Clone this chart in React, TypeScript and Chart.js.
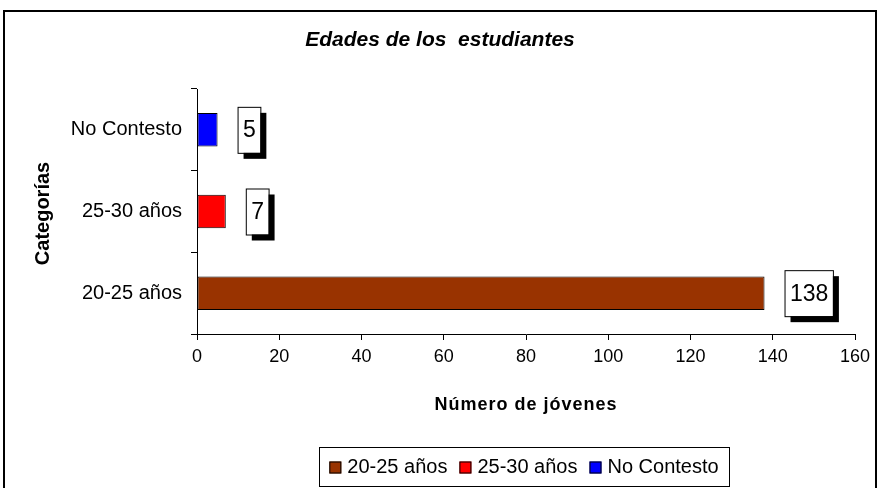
import React, { useEffect, useRef } from "react";
import { Chart, registerables } from "chart.js";

Chart.register(...registerables);

const categories = ["20-25 años", "25-30 años", "No Contesto"];
const seriesNames = ["20-25 años", "25-30 años", "No Contesto"];
const seriesValues = [138, 7, 5];
const seriesColors = ["#993300", "#FF0000", "#0000FF"];
const xMin = 0;
const xMax = 160;
const xStep = 20;
const chartTitle = "Edades de los  estudiantes";
const xTitle = "Número de jóvenes";
const yTitle = "Categorías";

const FONT = "'Liberation Sans', Arial, Helvetica, sans-serif";

const decorPlugin = {
  id: "decor",
  afterDraw(chart: any) {
    const ctx = chart.ctx as CanvasRenderingContext2D;
    const area = chart.chartArea;
    ctx.save();

    // outer frame
    ctx.strokeStyle = "#000";
    ctx.lineWidth = 2;
    ctx.strokeRect(4, 11, 872, 490);

    // title
    ctx.fillStyle = "#000";
    ctx.textAlign = "center";
    ctx.textBaseline = "middle";
    ctx.font = `italic bold 21px ${FONT}`;
    ctx.fillText(chartTitle, 440, 40);

    // x axis title
    ctx.font = `bold 18px ${FONT}`;
    (ctx as any).letterSpacing = "1px";
    ctx.fillText(xTitle, (area.left + area.right) / 2, 405);
    (ctx as any).letterSpacing = "0px";

    // y axis title
    ctx.save();
    ctx.translate(43, (area.top + area.bottom) / 2 + 2);
    ctx.rotate(-Math.PI / 2);
    ctx.font = `bold 20px ${FONT}`;
    ctx.fillText(yTitle, 0, 0);
    ctx.restore();

    // data labels
    ctx.font = `23px ${FONT}`;
    chart.data.datasets.forEach((ds: any, i: number) => {
      const meta = chart.getDatasetMeta(i);
      meta.data.forEach((el: any, j: number) => {
        const v = ds.data[j];
        if (v === null || v === undefined) return;
        const text = String(v);
        const tw = ctx.measureText(text).width;
        const w = tw + 10;
        const h = 46;
        const bx = el.x + 20;
        const by = el.y - h / 2;
        ctx.fillStyle = "#000";
        ctx.fillRect(bx + 6, by + 6, w, h);
        ctx.fillStyle = "#fff";
        ctx.fillRect(bx, by, w, h);
        ctx.strokeStyle = "#000";
        ctx.lineWidth = 1;
        ctx.strokeRect(bx + 0.5, by + 0.5, w, h);
        ctx.fillStyle = "#000";
        ctx.textAlign = "center";
        ctx.textBaseline = "middle";
        ctx.fillText(text, bx + w / 2 + 0.5, by + h / 2 + 1);
      });
    });

    // legend
    const lx = 319, ly = 447, lw = 410, lh = 39;
    ctx.fillStyle = "#fff";
    ctx.fillRect(lx, ly, lw, lh);
    ctx.strokeStyle = "#000";
    ctx.lineWidth = 1;
    ctx.strokeRect(lx + 0.5, ly + 0.5, lw, lh);
    ctx.font = `20px ${FONT}`;
    const sq = 12, gapSq = 6, gapItem = 12;
    const widths = seriesNames.map((n) => sq + gapSq + ctx.measureText(n).width);
    const total = widths.reduce((a, b) => a + b, 0) + gapItem * (seriesNames.length - 1);
    let x = lx + (lw - total) / 2;
    const cy = ly + lh / 2 + 1;
    seriesNames.forEach((n, i) => {
      ctx.fillStyle = seriesColors[i];
      ctx.fillRect(x, cy - sq / 2, sq, sq);
      ctx.strokeStyle = "#000";
      ctx.strokeRect(x + 0.5, cy - sq / 2 + 0.5, sq - 1, sq - 1);
      ctx.fillStyle = "#000";
      ctx.textAlign = "left";
      ctx.textBaseline = "middle";
      ctx.fillText(n, x + sq + gapSq, cy);
      x += widths[i] + gapItem;
    });

    ctx.restore();
  },
};

export default function App() {
  const ref = useRef<HTMLCanvasElement>(null);

  useEffect(() => {
    document.body.style.margin = "0";
    const canvas = ref.current;
    if (!canvas) return;
    const datasets = seriesNames.map((name, i) => ({
      label: name,
      data: categories.map((_, j) => (j === i ? seriesValues[i] : null)),
      backgroundColor: seriesColors[i],
      borderColor: "#000",
      borderWidth: 1,
      borderSkipped: false,
      barPercentage: 0.41,
      categoryPercentage: 1,
      skipNull: true,
    }));
    const chart = new Chart(canvas, {
      type: "bar",
      data: { labels: categories, datasets },
      options: {
        indexAxis: "y",
        responsive: false,
        animation: false,
        layout: { padding: { top: 89, right: 25, left: 0, bottom: 0 } },
        plugins: {
          legend: { display: false },
          title: { display: false },
          tooltip: { enabled: false },
        },
        scales: {
          x: {
            type: "linear",
            min: xMin,
            max: xMax,
            ticks: {
              stepSize: xStep,
              color: "#000",
              padding: 6,
              font: { family: FONT, size: 18 },
            },
            grid: {
              drawOnChartArea: false,
              drawTicks: true,
              tickLength: 6,
              color: "#000",
            },
            border: { display: true, color: "#000", width: 1 },
            afterFit: (s: any) => {
              s.height = 154;
            },
          },
          y: {
            reverse: true,
            ticks: {
              color: "#000",
              padding: 9,
              font: { family: FONT, size: 20 },
            },
            grid: {
              drawOnChartArea: false,
              drawTicks: true,
              tickLength: 6,
              offset: true,
              color: "#000",
            },
            border: { display: true, color: "#000", width: 1 },
            afterFit: (s: any) => {
              s.width = 197;
            },
          },
        },
      } as any,
      plugins: [decorPlugin],
    });
    return () => chart.destroy();
  }, []);

  return <canvas ref={ref} width={880} height={488} style={{ display: "block" }} />;
}
